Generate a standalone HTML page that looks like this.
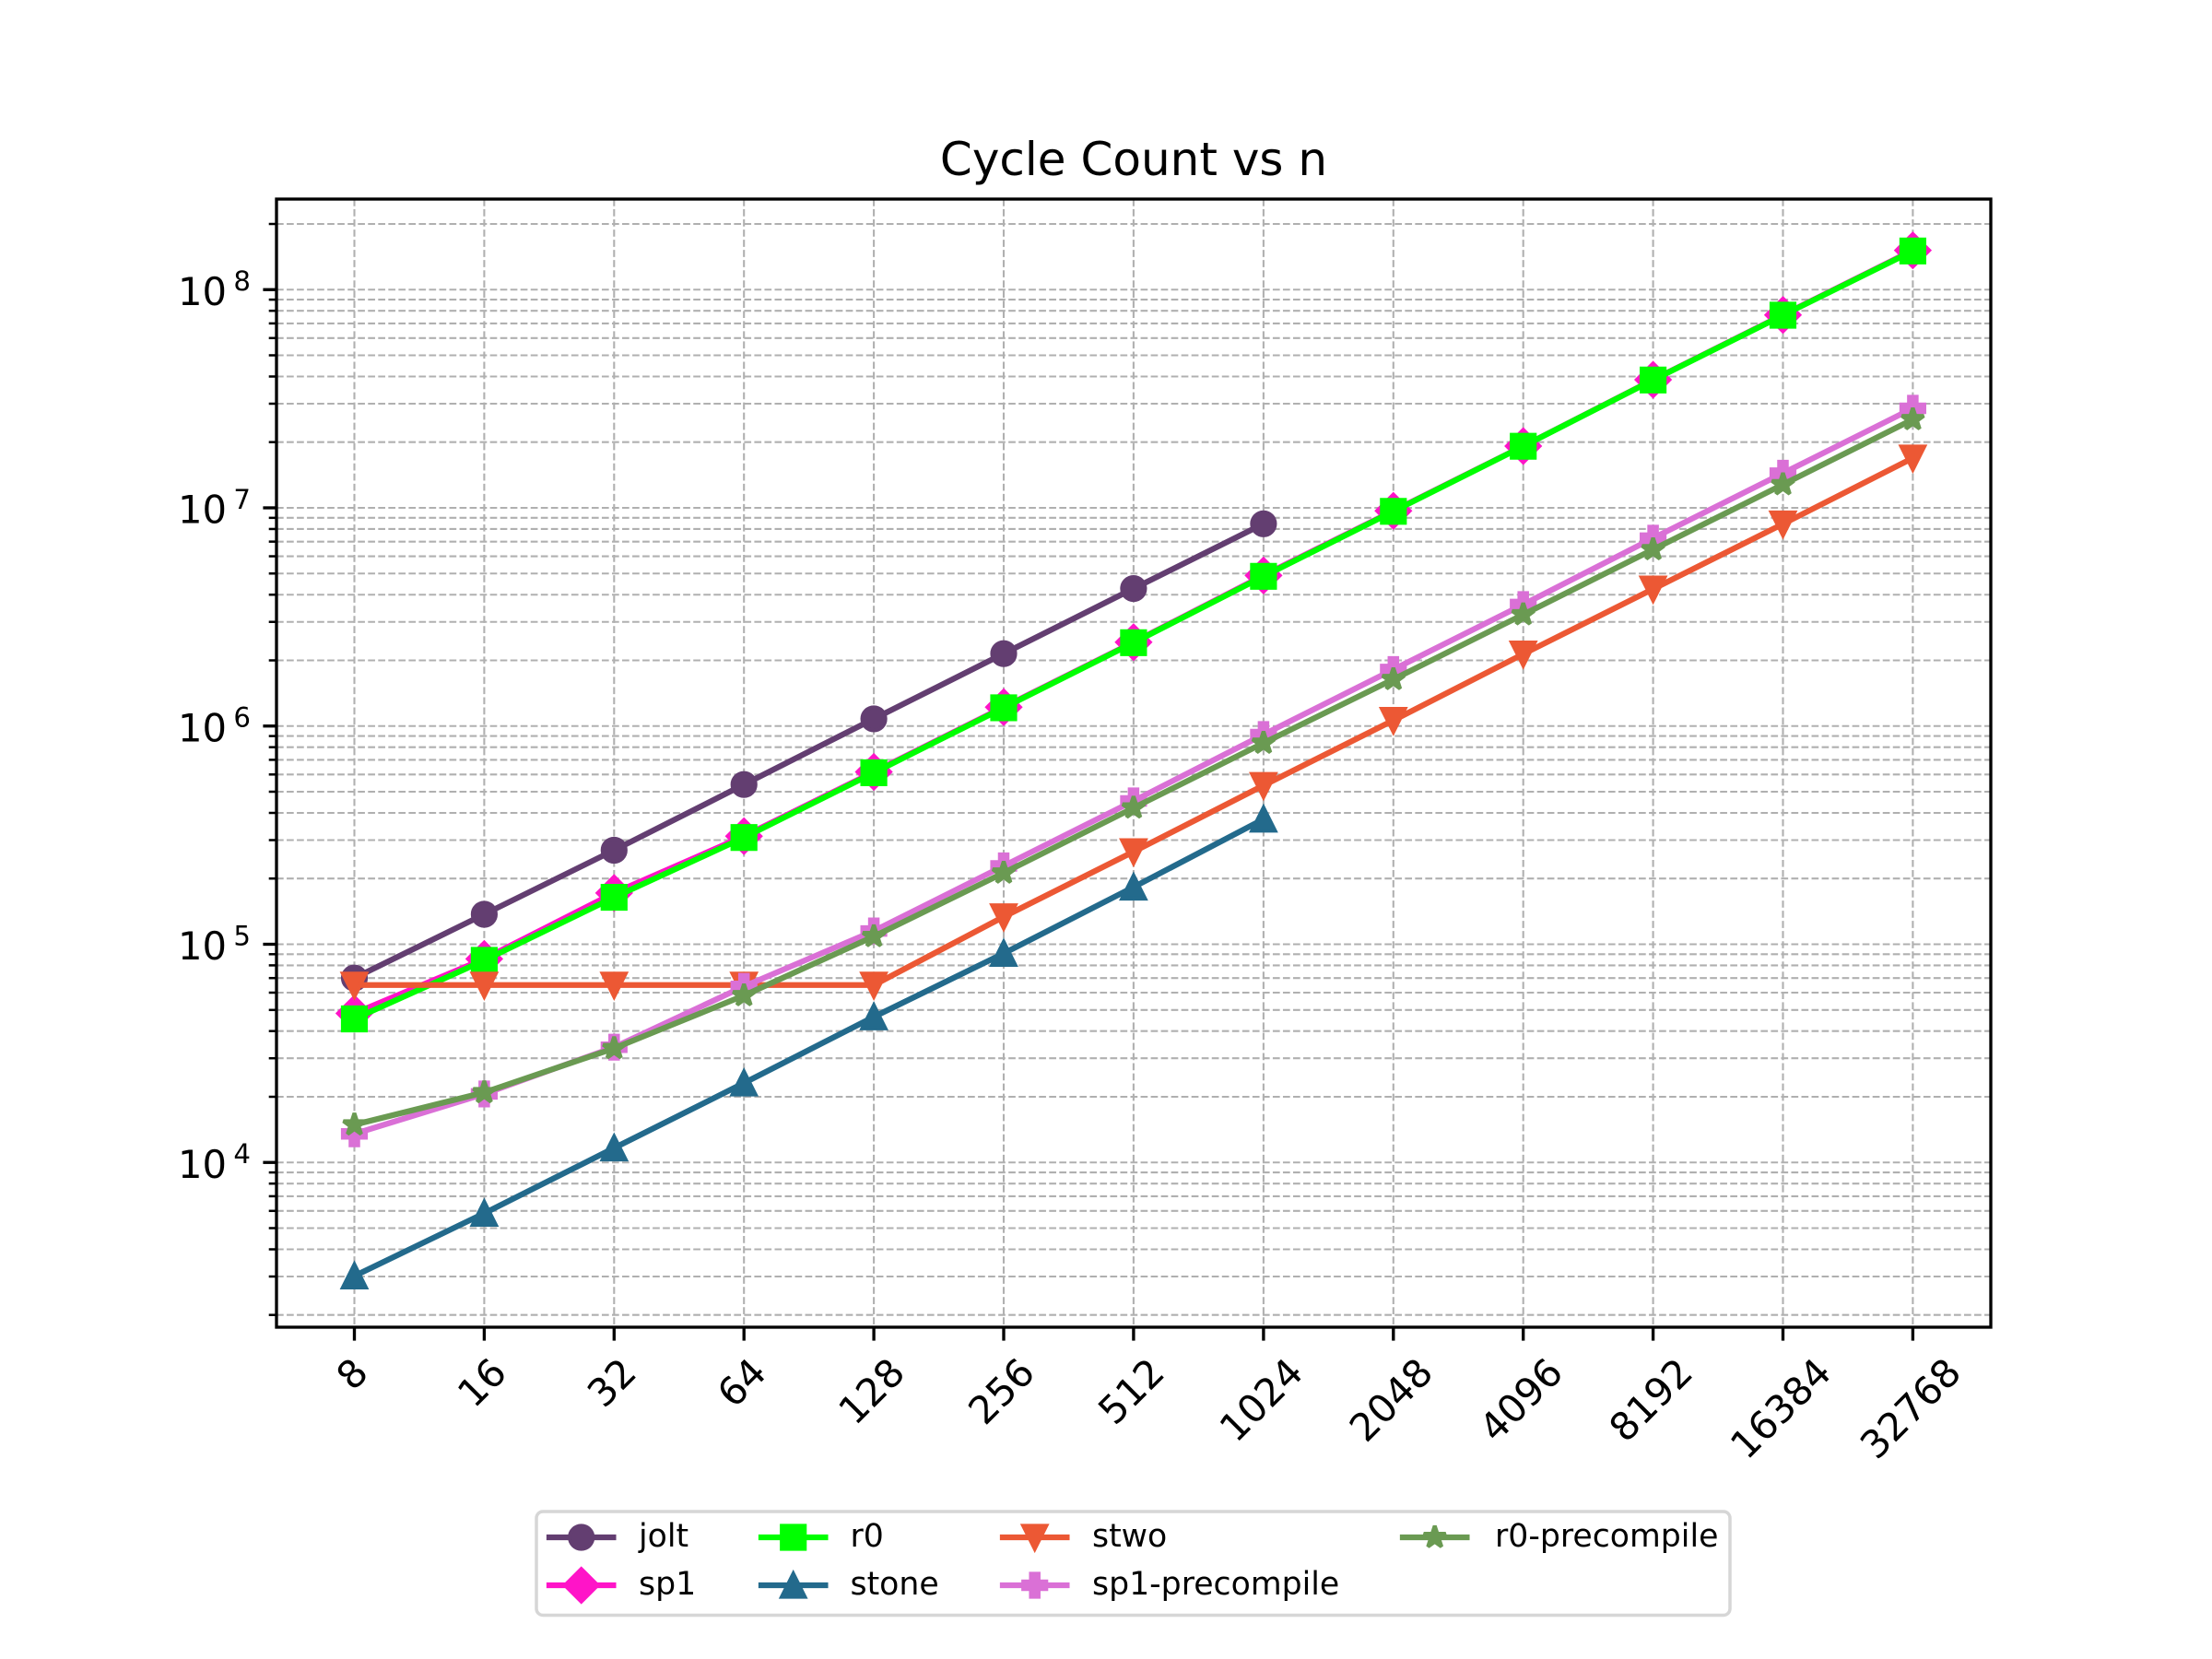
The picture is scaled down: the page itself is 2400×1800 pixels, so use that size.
<!DOCTYPE html>
<html>
<head>
<meta charset="utf-8">
<style>
html,body{margin:0;padding:0;background:#fff;}
svg{display:block;}
text{font-family:"DejaVu Sans","Liberation Sans",sans-serif;fill:#000;}
</style>
</head>
<body>
<svg width="2400" height="1800" viewBox="0 0 2400 1800" xmlns="http://www.w3.org/2000/svg">
<defs>
<marker id="mk-jolt" markerUnits="userSpaceOnUse" refX="0" refY="0" markerWidth="60" markerHeight="60" overflow="visible" orient="0">
<circle cx="0" cy="0" r="12.5" fill="#633e71" stroke="#633e71" stroke-width="4.17"/>
</marker>
<marker id="mk-sp1" markerUnits="userSpaceOnUse" refX="0" refY="0" markerWidth="60" markerHeight="60" overflow="visible" orient="0">
<path d="M0,-17.68L17.68,0L0,17.68L-17.68,0Z" fill="#ff14c8" stroke="#ff14c8" stroke-width="4.17" stroke-linejoin="miter"/>
</marker>
<marker id="mk-r0" markerUnits="userSpaceOnUse" refX="0" refY="0" markerWidth="60" markerHeight="60" overflow="visible" orient="0">
<path d="M-12.5,-12.5H12.5V12.5H-12.5Z" fill="#00ff00" stroke="#00ff00" stroke-width="4.17" stroke-linejoin="miter"/>
</marker>
<marker id="mk-stone" markerUnits="userSpaceOnUse" refX="0" refY="0" markerWidth="60" markerHeight="60" overflow="visible" orient="0">
<path d="M0,-12.5L-12.5,12.5L12.5,12.5Z" fill="#236a8c" stroke="#236a8c" stroke-width="4.17" stroke-linejoin="miter"/>
</marker>
<marker id="mk-stwo" markerUnits="userSpaceOnUse" refX="0" refY="0" markerWidth="60" markerHeight="60" overflow="visible" orient="0">
<path d="M0,12.5L-12.5,-12.5L12.5,-12.5Z" fill="#ec5834" stroke="#ec5834" stroke-width="4.17" stroke-linejoin="miter"/>
</marker>
<marker id="mk-sp1p" markerUnits="userSpaceOnUse" refX="0" refY="0" markerWidth="60" markerHeight="60" overflow="visible" orient="0">
<path d="M-4.17,-12.5H4.17V-4.17H12.5V4.17H4.17V12.5H-4.17V4.17H-12.5V-4.17H-4.17Z" fill="#da70d6" stroke="#da70d6" stroke-width="4.17" stroke-linejoin="miter"/>
</marker>
<marker id="mk-r0p" markerUnits="userSpaceOnUse" refX="0" refY="0" markerWidth="60" markerHeight="60" overflow="visible" orient="0">
<path d="M0,-12.5L2.807,-3.863L11.888,-3.863L4.541,1.476L7.347,10.113L0,4.775L-7.347,10.113L-4.541,1.476L-11.888,-3.863L-2.807,-3.863Z" fill="#6a9a52" stroke="#6a9a52" stroke-width="4.17" stroke-linejoin="bevel"/>
</marker>
</defs>

<rect x="0" y="0" width="2400" height="1800" fill="#ffffff"/>

<g stroke="#b0b0b0" stroke-width="2.08" stroke-dasharray="7.7 3.33" fill="none">
<line x1="384.5" y1="216" x2="384.5" y2="1440"/>
<line x1="525.4" y1="216" x2="525.4" y2="1440"/>
<line x1="666.3" y1="216" x2="666.3" y2="1440"/>
<line x1="807.2" y1="216" x2="807.2" y2="1440"/>
<line x1="948.1" y1="216" x2="948.1" y2="1440"/>
<line x1="1089.0" y1="216" x2="1089.0" y2="1440"/>
<line x1="1229.9" y1="216" x2="1229.9" y2="1440"/>
<line x1="1370.9" y1="216" x2="1370.9" y2="1440"/>
<line x1="1511.8" y1="216" x2="1511.8" y2="1440"/>
<line x1="1652.7" y1="216" x2="1652.7" y2="1440"/>
<line x1="1793.6" y1="216" x2="1793.6" y2="1440"/>
<line x1="1934.5" y1="216" x2="1934.5" y2="1440"/>
<line x1="2075.4" y1="216" x2="2075.4" y2="1440"/>
<line x1="300" y1="1426.7" x2="2160" y2="1426.7"/>
<line x1="300" y1="1385.0" x2="2160" y2="1385.0"/>
<line x1="300" y1="1355.5" x2="2160" y2="1355.5"/>
<line x1="300" y1="1332.5" x2="2160" y2="1332.5"/>
<line x1="300" y1="1313.8" x2="2160" y2="1313.8"/>
<line x1="300" y1="1297.9" x2="2160" y2="1297.9"/>
<line x1="300" y1="1284.2" x2="2160" y2="1284.2"/>
<line x1="300" y1="1272.1" x2="2160" y2="1272.1"/>
<line x1="300" y1="1261.25" x2="2160" y2="1261.25"/>
<line x1="300" y1="1190.0" x2="2160" y2="1190.0"/>
<line x1="300" y1="1148.2" x2="2160" y2="1148.2"/>
<line x1="300" y1="1118.7" x2="2160" y2="1118.7"/>
<line x1="300" y1="1095.8" x2="2160" y2="1095.8"/>
<line x1="300" y1="1077.0" x2="2160" y2="1077.0"/>
<line x1="300" y1="1061.2" x2="2160" y2="1061.2"/>
<line x1="300" y1="1047.4" x2="2160" y2="1047.4"/>
<line x1="300" y1="1035.3" x2="2160" y2="1035.3"/>
<line x1="300" y1="1024.5" x2="2160" y2="1024.5"/>
<line x1="300" y1="953.2" x2="2160" y2="953.2"/>
<line x1="300" y1="911.5" x2="2160" y2="911.5"/>
<line x1="300" y1="882.0" x2="2160" y2="882.0"/>
<line x1="300" y1="859.0" x2="2160" y2="859.0"/>
<line x1="300" y1="840.3" x2="2160" y2="840.3"/>
<line x1="300" y1="824.4" x2="2160" y2="824.4"/>
<line x1="300" y1="810.7" x2="2160" y2="810.7"/>
<line x1="300" y1="798.6" x2="2160" y2="798.6"/>
<line x1="300" y1="787.75" x2="2160" y2="787.75"/>
<line x1="300" y1="716.5" x2="2160" y2="716.5"/>
<line x1="300" y1="674.75" x2="2160" y2="674.75"/>
<line x1="300" y1="645.25" x2="2160" y2="645.25"/>
<line x1="300" y1="622.25" x2="2160" y2="622.25"/>
<line x1="300" y1="603.55" x2="2160" y2="603.55"/>
<line x1="300" y1="587.65" x2="2160" y2="587.65"/>
<line x1="300" y1="573.95" x2="2160" y2="573.95"/>
<line x1="300" y1="561.85" x2="2160" y2="561.85"/>
<line x1="300" y1="551.0" x2="2160" y2="551.0"/>
<line x1="300" y1="479.7" x2="2160" y2="479.7"/>
<line x1="300" y1="438.0" x2="2160" y2="438.0"/>
<line x1="300" y1="408.5" x2="2160" y2="408.5"/>
<line x1="300" y1="385.5" x2="2160" y2="385.5"/>
<line x1="300" y1="366.8" x2="2160" y2="366.8"/>
<line x1="300" y1="350.9" x2="2160" y2="350.9"/>
<line x1="300" y1="337.2" x2="2160" y2="337.2"/>
<line x1="300" y1="325.1" x2="2160" y2="325.1"/>
<line x1="300" y1="314.25" x2="2160" y2="314.25"/>
<line x1="300" y1="243.0" x2="2160" y2="243.0"/>
</g>

<g fill="none" stroke-width="6.25" stroke-linejoin="round" stroke-linecap="square">
<polyline stroke="#633e71" marker-start="url(#mk-jolt)" marker-mid="url(#mk-jolt)" marker-end="url(#mk-jolt)" points="384.5,1061.2 525.4,992.0 666.3,922.5 807.2,851.2 948.1,779.9 1089.0,709.2 1229.9,638.6 1370.9,568.3"/>
<polyline stroke="#ff14c8" marker-start="url(#mk-sp1)" marker-mid="url(#mk-sp1)" marker-end="url(#mk-sp1)" points="384.5,1099.5 525.4,1040.4 666.3,968.9 807.2,907.3 948.1,837.5 1089.0,767.2 1229.9,696.8 1370.9,624.4 1511.8,554.3 1652.7,484.0 1793.6,412.0 1934.5,341.7 2075.4,271.6"/>
<polyline stroke="#00ff00" marker-start="url(#mk-r0)" marker-mid="url(#mk-r0)" marker-end="url(#mk-r0)" points="384.5,1105.5 525.4,1042.0 666.3,973.6 807.2,908.7 948.1,838.4 1089.0,767.9 1229.9,697.3 1370.9,625.3 1511.8,554.8 1652.7,484.2 1793.6,412.3 1934.5,342.0 2075.4,272.3"/>
<polyline stroke="#236a8c" marker-start="url(#mk-stone)" marker-mid="url(#mk-stone)" marker-end="url(#mk-stone)" points="384.5,1384.4 525.4,1316.4 666.3,1245.6 807.2,1175.1 948.1,1103.3 1089.0,1034.4 1229.9,962.5 1370.9,888.8"/>
<polyline stroke="#ec5834" marker-start="url(#mk-stwo)" marker-mid="url(#mk-stwo)" marker-end="url(#mk-stwo)" points="384.5,1068.8 525.4,1068.8 666.3,1068.8 807.2,1068.8 948.1,1068.8 1089.0,994.7 1229.9,924.1 1370.9,852.2 1511.8,781.6 1652.7,709.6 1793.6,639.1 1934.5,568.5 2075.4,497.0"/>
<polyline stroke="#da70d6" marker-start="url(#mk-sp1p)" marker-mid="url(#mk-sp1p)" marker-end="url(#mk-sp1p)" points="384.5,1230.2 525.4,1186.9 666.3,1136.2 807.2,1070.2 948.1,1010.1 1089.0,939.5 1229.9,869.0 1370.9,797.0 1511.8,726.4 1652.7,655.9 1793.6,583.9 1934.5,513.4 2075.4,443.0"/>
<polyline stroke="#6a9a52" marker-start="url(#mk-r0p)" marker-mid="url(#mk-r0p)" marker-end="url(#mk-r0p)" points="384.5,1220.3 525.4,1185.3 666.3,1137.4 807.2,1080.1 948.1,1016.0 1089.0,947.1 1229.9,876.5 1370.9,806.2 1511.8,737.1 1652.7,666.8 1793.6,596.2 1934.5,525.7 2075.4,455.1"/>
</g>

<rect x="300" y="216" width="1860" height="1224" fill="none" stroke="#000" stroke-width="3.33" stroke-linejoin="miter"/>

<g stroke="#000" stroke-width="3.33">
<line x1="285.4" y1="1261.25" x2="300" y2="1261.25"/>
<line x1="285.4" y1="1024.5" x2="300" y2="1024.5"/>
<line x1="285.4" y1="787.75" x2="300" y2="787.75"/>
<line x1="285.4" y1="551.0" x2="300" y2="551.0"/>
<line x1="285.4" y1="314.25" x2="300" y2="314.25"/>
</g>
<g stroke="#000" stroke-width="2.5">
<line x1="291.7" y1="1426.7" x2="300" y2="1426.7"/>
<line x1="291.7" y1="1385.0" x2="300" y2="1385.0"/>
<line x1="291.7" y1="1355.5" x2="300" y2="1355.5"/>
<line x1="291.7" y1="1332.5" x2="300" y2="1332.5"/>
<line x1="291.7" y1="1313.8" x2="300" y2="1313.8"/>
<line x1="291.7" y1="1297.9" x2="300" y2="1297.9"/>
<line x1="291.7" y1="1284.2" x2="300" y2="1284.2"/>
<line x1="291.7" y1="1272.1" x2="300" y2="1272.1"/>
<line x1="291.7" y1="1190.0" x2="300" y2="1190.0"/>
<line x1="291.7" y1="1148.2" x2="300" y2="1148.2"/>
<line x1="291.7" y1="1118.7" x2="300" y2="1118.7"/>
<line x1="291.7" y1="1095.8" x2="300" y2="1095.8"/>
<line x1="291.7" y1="1077.0" x2="300" y2="1077.0"/>
<line x1="291.7" y1="1061.2" x2="300" y2="1061.2"/>
<line x1="291.7" y1="1047.4" x2="300" y2="1047.4"/>
<line x1="291.7" y1="1035.3" x2="300" y2="1035.3"/>
<line x1="291.7" y1="953.2" x2="300" y2="953.2"/>
<line x1="291.7" y1="911.5" x2="300" y2="911.5"/>
<line x1="291.7" y1="882.0" x2="300" y2="882.0"/>
<line x1="291.7" y1="859.0" x2="300" y2="859.0"/>
<line x1="291.7" y1="840.3" x2="300" y2="840.3"/>
<line x1="291.7" y1="824.4" x2="300" y2="824.4"/>
<line x1="291.7" y1="810.7" x2="300" y2="810.7"/>
<line x1="291.7" y1="798.6" x2="300" y2="798.6"/>
<line x1="291.7" y1="716.5" x2="300" y2="716.5"/>
<line x1="291.7" y1="674.75" x2="300" y2="674.75"/>
<line x1="291.7" y1="645.25" x2="300" y2="645.25"/>
<line x1="291.7" y1="622.25" x2="300" y2="622.25"/>
<line x1="291.7" y1="603.55" x2="300" y2="603.55"/>
<line x1="291.7" y1="587.65" x2="300" y2="587.65"/>
<line x1="291.7" y1="573.95" x2="300" y2="573.95"/>
<line x1="291.7" y1="561.85" x2="300" y2="561.85"/>
<line x1="291.7" y1="479.7" x2="300" y2="479.7"/>
<line x1="291.7" y1="438.0" x2="300" y2="438.0"/>
<line x1="291.7" y1="408.5" x2="300" y2="408.5"/>
<line x1="291.7" y1="385.5" x2="300" y2="385.5"/>
<line x1="291.7" y1="366.8" x2="300" y2="366.8"/>
<line x1="291.7" y1="350.9" x2="300" y2="350.9"/>
<line x1="291.7" y1="337.2" x2="300" y2="337.2"/>
<line x1="291.7" y1="325.1" x2="300" y2="325.1"/>
<line x1="291.7" y1="243.0" x2="300" y2="243.0"/>
</g>

<g stroke="#000" stroke-width="3.33">
<line x1="384.5" y1="1440" x2="384.5" y2="1454.6"/>
<line x1="525.4" y1="1440" x2="525.4" y2="1454.6"/>
<line x1="666.3" y1="1440" x2="666.3" y2="1454.6"/>
<line x1="807.2" y1="1440" x2="807.2" y2="1454.6"/>
<line x1="948.1" y1="1440" x2="948.1" y2="1454.6"/>
<line x1="1089.0" y1="1440" x2="1089.0" y2="1454.6"/>
<line x1="1229.9" y1="1440" x2="1229.9" y2="1454.6"/>
<line x1="1370.9" y1="1440" x2="1370.9" y2="1454.6"/>
<line x1="1511.8" y1="1440" x2="1511.8" y2="1454.6"/>
<line x1="1652.7" y1="1440" x2="1652.7" y2="1454.6"/>
<line x1="1793.6" y1="1440" x2="1793.6" y2="1454.6"/>
<line x1="1934.5" y1="1440" x2="1934.5" y2="1454.6"/>
<line x1="2075.4" y1="1440" x2="2075.4" y2="1454.6"/>
</g>

<g font-size="41.67" text-anchor="end">
<text x="246" y="1277.75">10</text>
<text x="246" y="1041.0">10</text>
<text x="246" y="804.25">10</text>
<text x="246" y="567.5">10</text>
<text x="246" y="330.75">10</text>
</g>
<g font-size="29.2" text-anchor="end">
<text x="271.9" y="1262.0">4</text>
<text x="271.9" y="1025.25">5</text>
<text x="271.9" y="788.5">6</text>
<text x="271.9" y="551.75">7</text>
<text x="271.9" y="315.0">8</text>
</g>

<g font-size="41.67" text-anchor="middle">
<text transform="translate(384.5,1493.2) rotate(-45)" x="0" y="10.95">8</text>
<text transform="translate(525.4,1502.6) rotate(-45)" x="0" y="10.95">16</text>
<text transform="translate(666.3,1502.6) rotate(-45)" x="0" y="10.95">32</text>
<text transform="translate(807.2,1502.6) rotate(-45)" x="0" y="10.95">64</text>
<text transform="translate(948.1,1512.0) rotate(-45)" x="0" y="10.95">128</text>
<text transform="translate(1089.0,1512.0) rotate(-45)" x="0" y="10.95">256</text>
<text transform="translate(1229.9,1512.0) rotate(-45)" x="0" y="10.95">512</text>
<text transform="translate(1370.9,1521.4) rotate(-45)" x="0" y="10.95">1024</text>
<text transform="translate(1511.8,1521.4) rotate(-45)" x="0" y="10.95">2048</text>
<text transform="translate(1652.7,1521.4) rotate(-45)" x="0" y="10.95">4096</text>
<text transform="translate(1793.6,1521.4) rotate(-45)" x="0" y="10.95">8192</text>
<text transform="translate(1934.5,1530.7) rotate(-45)" x="0" y="10.95">16384</text>
<text transform="translate(2075.4,1530.7) rotate(-45)" x="0" y="10.95">32768</text>
</g>

<text x="1230" y="190" font-size="50" text-anchor="middle">Cycle Count vs n</text>

<rect x="582" y="1640" width="1295" height="112.5" rx="7" ry="7" fill="#ffffff" fill-opacity="0.8" stroke="#d6d6d6" stroke-width="3.5"/>
<g fill="none" stroke-width="6.25" stroke-linecap="square">
<polyline stroke="#633e71" marker-mid="url(#mk-jolt)" points="596,1668 630.7,1668 665.4,1668"/>
<polyline stroke="#ff14c8" marker-mid="url(#mk-sp1)" points="596,1720 630.7,1720 665.4,1720"/>
<polyline stroke="#00ff00" marker-mid="url(#mk-r0)" points="826,1668 860.7,1668 895.4,1668"/>
<polyline stroke="#236a8c" marker-mid="url(#mk-stone)" points="826,1720 860.7,1720 895.4,1720"/>
<polyline stroke="#ec5834" marker-mid="url(#mk-stwo)" points="1088,1668 1122.7,1668 1157.4,1668"/>
<polyline stroke="#da70d6" marker-mid="url(#mk-sp1p)" points="1088,1720 1122.7,1720 1157.4,1720"/>
<polyline stroke="#6a9a52" marker-mid="url(#mk-r0p)" points="1522,1668 1556.7,1668 1591.4,1668"/>
</g>
<g font-size="34.7">
<text x="693" y="1678">jolt</text>
<text x="693" y="1730">sp1</text>
<text x="922.5" y="1678">r0</text>
<text x="922.5" y="1730">stone</text>
<text x="1185" y="1678">stwo</text>
<text x="1185" y="1730">sp1-precompile</text>
<text x="1622" y="1678">r0-precompile</text>
</g>
</svg>
</body>
</html>
